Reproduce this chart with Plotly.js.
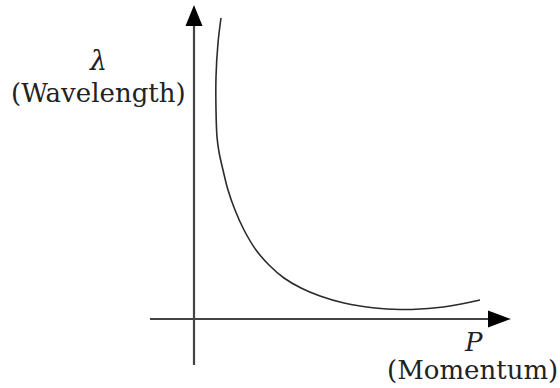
<!DOCTYPE html>
<html>
<head>
<meta charset="utf-8">
<script src="https://cdn.plot.ly/plotly-3.0.1.min.js"></script>
<style>html,body{margin:0;padding:0;background:#fff;}#chart{width:560px;height:388px;}</style>
</head>
<body>
<div id="chart"></div>
<script>
// Conceptual curve: wavelength (lambda) vs momentum (P), arbitrary units
const momentum = [27, 24, 22, 22, 23, 25, 29, 34, 41, 50, 62, 75, 90, 107, 126, 150, 181, 206, 226, 256, 286];
const wavelength = [301, 276, 242, 209, 182, 167, 149, 129, 109, 89, 69, 54, 41, 31, 23, 16, 11, 9.5, 10, 13, 19];
const yLabel = ['λ', '(Wavelength)'];
const xLabel = ['P', '(Momentum)'];

const ink = '#2b2b2b';
const serif = 'DejaVu Serif';

const trace = {
  x: momentum, y: wavelength, mode: 'lines', type: 'scatter',
  line: {color: ink, width: 1.6, shape: 'spline', smoothing: 1},
  hoverinfo: 'skip'
};

const layout = {
  width: 560, height: 388,
  margin: {l: 0, r: 0, t: 0, b: 0},
  paper_bgcolor: '#fff', plot_bgcolor: '#fff',
  showlegend: false,
  xaxis: {range: [-194, 366], visible: false, fixedrange: true},
  yaxis: {range: [-69, 319], visible: false, fixedrange: true},
  shapes: [
    {type: 'line', xref: 'x', yref: 'y', x0: 0, x1: 0, y0: -46, y1: 296, line: {color: '#444', width: 2.2}},
    {type: 'path', xref: 'x', yref: 'y', path: 'M -8.5 293 L 8.5 293 L 0 314 Z', fillcolor: '#000', line: {width: 0}},
    {type: 'line', xref: 'x', yref: 'y', x0: -44, x1: 297, y0: 0, y1: 0, line: {color: '#444', width: 2.2}},
    {type: 'path', xref: 'x', yref: 'y', path: 'M 294 8.5 L 294 -8.5 L 317 0 Z', fillcolor: '#000', line: {width: 0}}
  ],
  annotations: [
    {xref: 'x', yref: 'y', x: -96, y: 259, text: '<i>' + yLabel[0] + '</i>', showarrow: false,
     font: {family: serif, size: 27, color: '#222'}, xanchor: 'center', yanchor: 'middle'},
    {xref: 'x', yref: 'y', x: -96, y: 226, text: yLabel[1], showarrow: false,
     font: {family: serif, size: 26, color: '#222'}, xanchor: 'center', yanchor: 'middle'},
    {xref: 'x', yref: 'y', x: 279, y: -23, text: '<i>' + xLabel[0] + '</i>', showarrow: false,
     font: {family: serif, size: 26, color: '#222'}, xanchor: 'center', yanchor: 'middle'},
    {xref: 'x', yref: 'y', x: 278, y: -51, text: xLabel[1], showarrow: false,
     font: {family: serif, size: 26, color: '#222'}, xanchor: 'center', yanchor: 'middle'}
  ]
};

Plotly.newPlot('chart', [trace], layout, {staticPlot: true, displayModeBar: false});
</script>
</body>
</html>
